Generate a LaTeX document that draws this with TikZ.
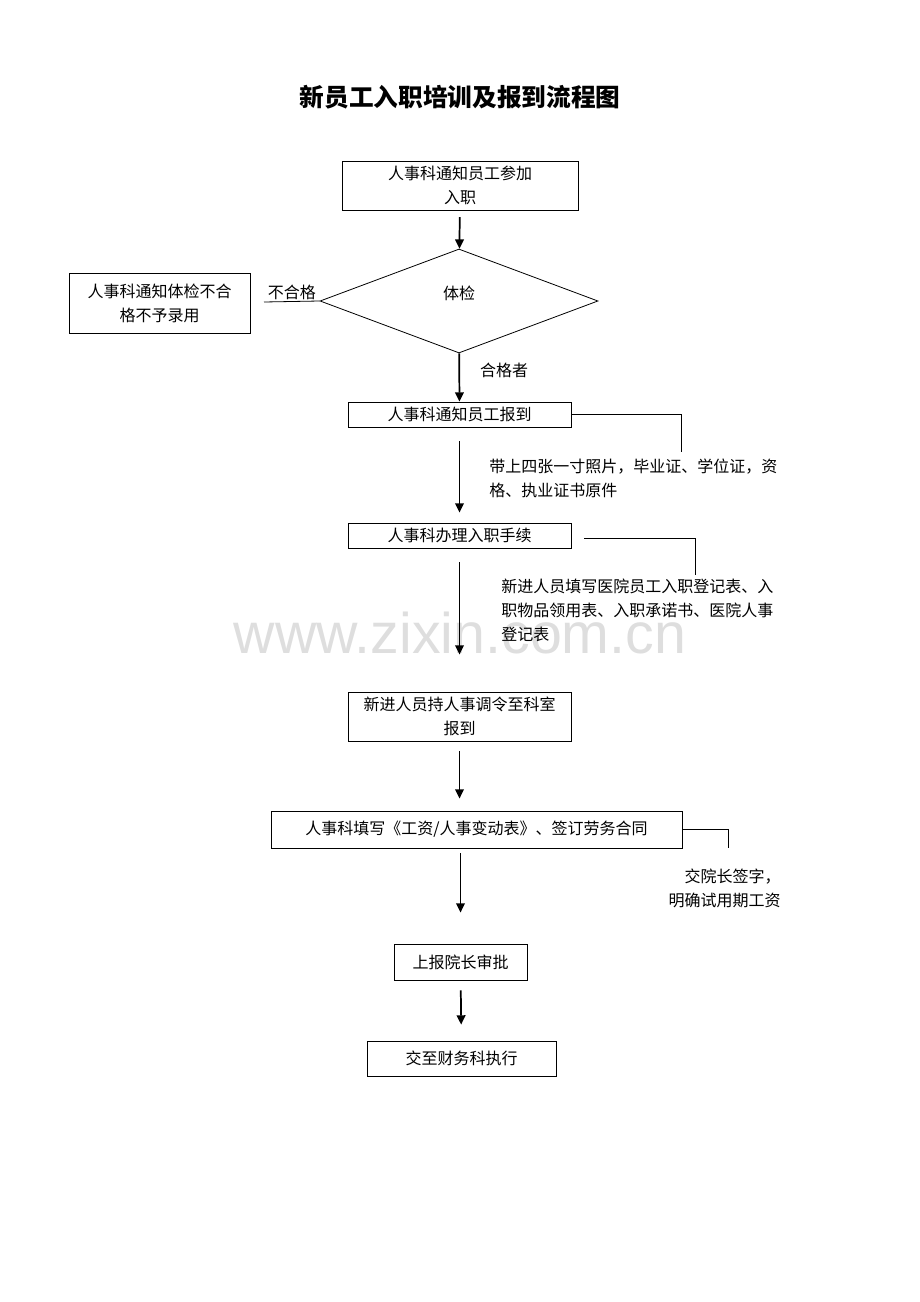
\documentclass[tikz,border=0pt]{standalone}
\usepackage{fontspec}
\setmainfont{Noto Sans CJK SC}
\newfontfamily\wmfont{Liberation Sans}
\usetikzlibrary{arrows.meta}
\usetikzlibrary{shapes.geometric}

\tikzset{
  box/.style={draw, line width=0.6pt, inner sep=0pt, align=center, font=\fontsize{12}{18}\selectfont},
  decision/.style={draw, diamond, line width=0.6pt, inner sep=0pt, minimum width=208.5pt, minimum height=78pt, font=\fontsize{12}{18}\selectfont},
  flow/.style={->, line width=1.3pt},
  side/.style={line width=0.6pt},
  note/.style={inner sep=0pt, font=\fontsize{12}{18}\selectfont},
}

\begin{document}
\begin{tikzpicture}[x=0.75pt, y=-0.75pt, >={Triangle[length=7pt,width=6.5pt]}]
\useasboundingbox (0,0) rectangle (920,1302);

% watermark
\node[text=black!13, font=\wmfont\fontsize{43}{43}\selectfont] (wm) at (460,633) {www.zixin.com.cn};

% title
\node[font=\fontsize{18.5}{18.5}\selectfont\bfseries] (title) at (460,97) {新员工入职培训及报到流程图};

% main steps
\node[box, minimum width=177pt, minimum height=36.75pt] (notify) at (460,185.5) {人事科通知员工参加\\入职};
\node[decision] (check) at (459,301) {\raisebox{12.5pt}{体检}};
\node[box, minimum width=135.75pt, minimum height=45pt] (reject) at (159.5,303) {人事科通知体检不合\\格不予录用};
\node[box, minimum width=167.25pt, minimum height=18.75pt] (report) at (459.5,414.5) {人事科通知员工报到};
\node[box, minimum width=167.25pt, minimum height=18.75pt] (proc) at (459.5,535.5) {人事科办理入职手续};
\node[box, minimum width=167.25pt, minimum height=36.75pt] (dept) at (459.5,716.5) {新进人员持人事调令至科室\\报到};
\node[box, minimum width=308.25pt, minimum height=27.75pt] (contract) at (476.5,829.5) {人事科填写《工资/人事变动表》、签订劳务合同};
\node[box, minimum width=99.75pt, minimum height=27pt] (approve) at (460.5,962) {上报院长审批};
\node[box, minimum width=141.75pt, minimum height=26.25pt] (finance) at (461.5,1058.5) {交至财务科执行};

% notes
\node[note, anchor=west, align=left] (note1) at (489,478) {带上四张一寸照片，毕业证、学位证，资\\格、执业证书原件};
\node[note, anchor=west, align=left] (note2) at (501,610) {新进人员填写医院员工入职登记表、入\\职物品领用表、入职承诺书、医院人事\\登记表};
\node[note, anchor=east, align=right] (note3) at (781,888) {交院长签字，\\明确试用期工资};
\node[note] (pass) at (504,370) {合格者};

% arrows
\draw[flow, shorten <=5pt] (notify) -- (check);
\draw[flow] (check) -- (report);
\draw[flow, shorten <=10.5pt, shorten >=7.5pt] (report) -- (proc);
\draw[flow, shorten <=10.5pt, shorten >=27.75pt] (proc) -- (dept);
\draw[flow, shorten <=7.5pt, shorten >=9pt] (dept.south) -- (contract.north -| dept.south);
\draw[flow, shorten <=3.75pt, shorten >=23.25pt] (contract.south -| approve.north) -- (approve.north);
\draw[flow, shorten <=7.5pt, shorten >=12pt] (approve) -- (finance);

% side lines
\coordinate (q) at (264,302);
\draw[side] (check.west) -- node[above, inner sep=1pt, font=\fontsize{12}{18}\selectfont] (fail) {不合格} (q);
\coordinate (r1) at (681,452);
\draw[side] (report.east) -| (r1);
\coordinate (p0) at (584,538);
\coordinate (p1) at (695,575);
\draw[side] (p0) -| (p1);
\coordinate (c1) at (728,848);
\draw[side] (contract.east) -| (c1);
\end{tikzpicture}
\end{document}
